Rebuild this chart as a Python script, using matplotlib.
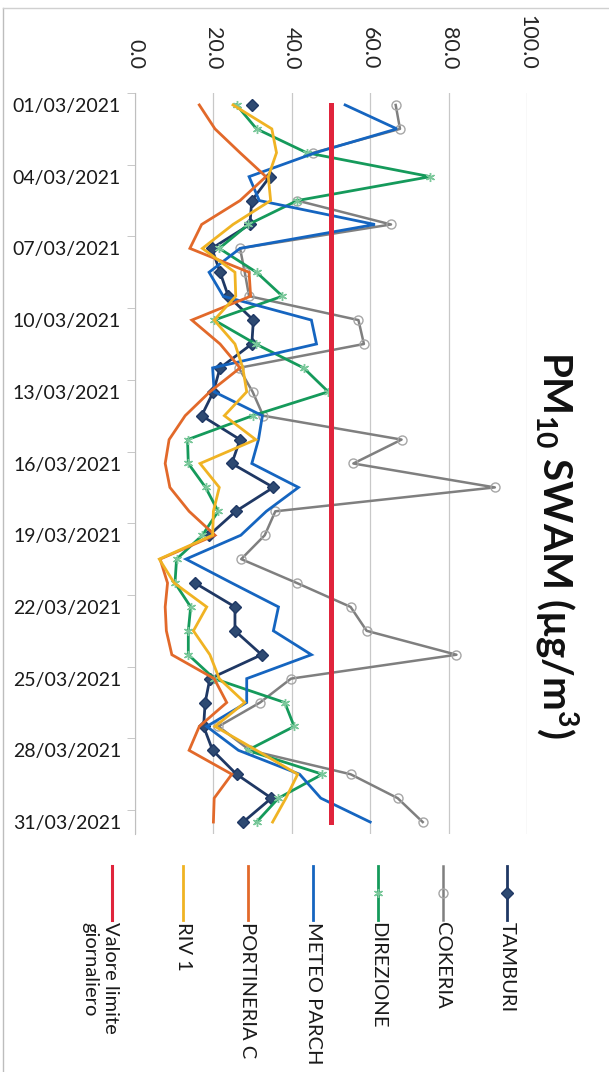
import numpy as np
import matplotlib
matplotlib.use("Agg")
import matplotlib.pyplot as plt
from matplotlib.lines import Line2D

plt.rcParams['font.family'] = ['Lato', 'DejaVu Sans']
plt.rcParams['mathtext.fontset'] = 'custom'
plt.rcParams['mathtext.rm'] = 'Lato'

nan = np.nan

# ---- data (PM10 SWAM, march 2021) ----
days = ["%02d/03/2021" % d for d in range(1, 32)]

tamburi = [29.8, nan, nan, 34.4, 29.8, 29.3, 19.6, 21.7, 23.8, 30.2, 29.8, 21.7, 20.0, 17.0, 26.8, 24.7,
           35.3, 25.7, 18.9, nan, 15.3, 25.5, 25.5, 32.3, 19.1, 17.9, 17.5, 19.8, 25.9, 34.8, 27.6]
cokeria = [66.5, 67.6, 45.5, nan, 41.4, 65.3, 26.8, 28.0, 29.1, 57.0, 58.4, 26.5, 30.0, 32.7, 68.0, 55.7,
           91.8, 35.8, 33.1, 27.1, 41.3, 55.0, 59.1, 82.0, 39.8, 31.9, 21.3, 29.3, 55.0, 67.0, 73.4]
direzione = [25.9, 31.0, 43.8, 75.3, 41.4, 28.9, 21.5, 31.0, 37.6, 20.2, 30.8, 43.0, 49.3, 30.0, 13.4, 13.6,
             18.0, 21.2, 17.2, 10.6, 10.2, 14.2, 13.6, 13.6, 20.2, 38.2, 40.6, 28.7, 47.8, 36.6, 31.0]
meteo_parch = [53.6, 66.8, 46.0, 29.1, 31.7, 61.2, 26.8, 18.9, 22.5, 45.0, 46.3, 19.8, 20.2, 32.5, 31.5, 29.8,
               41.7, 33.5, 27.0, 13.0, 24.7, 36.6, 35.3, 45.0, 28.5, 28.5, 18.3, 26.4, 42.0, 47.4, 60.0]
portineria_c = [16.4, 20.4, 26.8, 33.4, 26.8, 17.0, 14.0, 29.1, 29.5, 14.5, 21.7, 26.8, 19.1, 12.8, 8.7, 7.7,
                8.9, 13.8, 20.4, 6.4, 8.3, 7.7, 8.0, 9.4, 20.2, 23.4, 16.4, 13.8, 24.7, 20.2, 20.0]
riv_1 = [25.0, 34.9, 36.1, 34.0, 34.6, 25.0, 17.2, 25.5, 25.7, 20.2, 25.5, 27.5, 28.5, 22.8, 30.8, 16.6,
         21.5, 20.0, 19.8, 6.2, 10.0, 18.3, 14.9, 19.1, 21.5, 28.0, 20.4, 31.0, 41.5, 38.5, 35.1]
valore_limite = [50.0, 50.0, 50.0, 50.0, 50.0, 50.0, 50.0, 50.0, 50.0, 50.0, 50.0, 50.0, 50.0, 50.0, 50.0, 50.0,
                 50.0, 50.0, 50.0, 50.0, 50.0, 50.0, 50.0, 50.0, 50.0, 50.0, 50.0, 50.0, 50.0, 50.0, 50.0]

value_ticks = [0, 20, 40, 60, 80, 100]

# series: name, values, color, marker, marker face, marker edge, linewidth
series = [
    ("TAMBURI", tamburi, "#1F3864", "D", "#2E4A72", "#1F3864", 2.0),
    ("COKERIA", cokeria, "#7F7F7F", "o", "none", "#A6A6A6", 1.8),
    ("DIREZIONE", direzione, "#159A5B", (6, 2, 0), "#7BC89B", "#7BC89B", 2.0),
    ("METEO PARCH", meteo_parch, "#1565C0", None, None, None, 2.0),
    ("PORTINERIA C", portineria_c, "#E2692A", None, None, None, 2.0),
    ("RIV 1", riv_1, "#F0B323", None, None, None, 2.0),
    ("Valore limite\ngiornaliero", valore_limite, "#E0243C", None, None, None, 3.6),
]

W, H = 609, 1072
fig = plt.figure(figsize=(W / 100, H / 100), dpi=100)
fig.patch.set_facecolor('white')

# plot area in pixels: value 0 -> 135, 100 -> 527 ; top 93, bottom 834
ax = fig.add_axes([135 / W, 1 - 834 / H, (527 - 135) / W, (834 - 93) / H])

pos = np.arange(1, len(days) + 1)
for name, vals, col, mk, mfc, mec, lw in series:
    if mk is None:
        ax.plot(vals, pos, color=col, lw=lw, solid_joinstyle='miter')
    else:
        ax.plot(vals, pos, color=col, lw=lw, marker=mk, markersize=6.5,
                markerfacecolor=mfc, markeredgecolor=mec, markeredgewidth=1.0)

ax.set_xlim(0, 100)
ax.set_ylim(len(days) + 0.5, 0.5)

# value axis on top, rotated labels
ax.xaxis.tick_top()
ax.set_xticks(value_ticks)
ax.set_xticklabels(["%.1f" % v for v in value_ticks], rotation=-90, fontsize=15.5, color='#262626')
ax.tick_params(axis='x', length=0, pad=17)
ax.grid(axis='x', color='#C8C8C8', lw=0.9)
ax.set_axisbelow(True)

# date axis on left
ax.set_yticks(pos[::3])
ax.set_yticklabels(days[::3], fontsize=14, color='#1a1a1a')
ax.set_yticks(np.arange(0.5, len(days) + 1, 3), minor=True)
ax.tick_params(axis='y', which='major', length=0, pad=10)
ax.tick_params(axis='y', which='minor', length=6, color='#BFBFBF', direction='out')

for s in ['top', 'right', 'bottom']:
    ax.spines[s].set_visible(False)
ax.spines['left'].set_color('#BFBFBF')

# title (rotated)
fig.text(556 / W, 1 - 545 / H, r"PM$_{\mathregular{10}}$ SWAM (µg/m$^{\mathregular{3}}$)",
         rotation=-90, ha='center', va='center', fontsize=29, fontweight='bold', color='#111111')

# legend (rotated, along the bottom)
leg_x = [507, 443, 378, 313, 248, 183, 112]
for (name, vals, col, mk, mfc, mec, lw), xp in zip(series, leg_x):
    xf = xp / W
    fig.add_artist(Line2D([xf, xf], [1 - 866 / H, 1 - 920 / H], color=col,
                          lw=min(lw, 2.2), transform=fig.transFigure))
    if mk is not None:
        fig.add_artist(Line2D([xf], [1 - 893 / H], marker=mk, markersize=6.5,
                              markerfacecolor=mfc, markeredgecolor=mec,
                              transform=fig.transFigure))
    fig.text(xf + (-12 / W if "\n" in name else 0), 1 - 922 / H, name, rotation=-90,
             ha='center', va='top', fontsize=14.5, color='#1a1a1a', multialignment='left',
             linespacing=1.25)

# chart border
fig.add_artist(Line2D([3 / W, 3 / W], [0, 1 - 8 / H], color='#BDBDBD', lw=1.0, transform=fig.transFigure))
fig.add_artist(Line2D([3 / W, 1], [1 - 8 / H, 1 - 8 / H], color='#D0D0D0', lw=1.0, transform=fig.transFigure))

fig.savefig("out.png", dpi=100)
